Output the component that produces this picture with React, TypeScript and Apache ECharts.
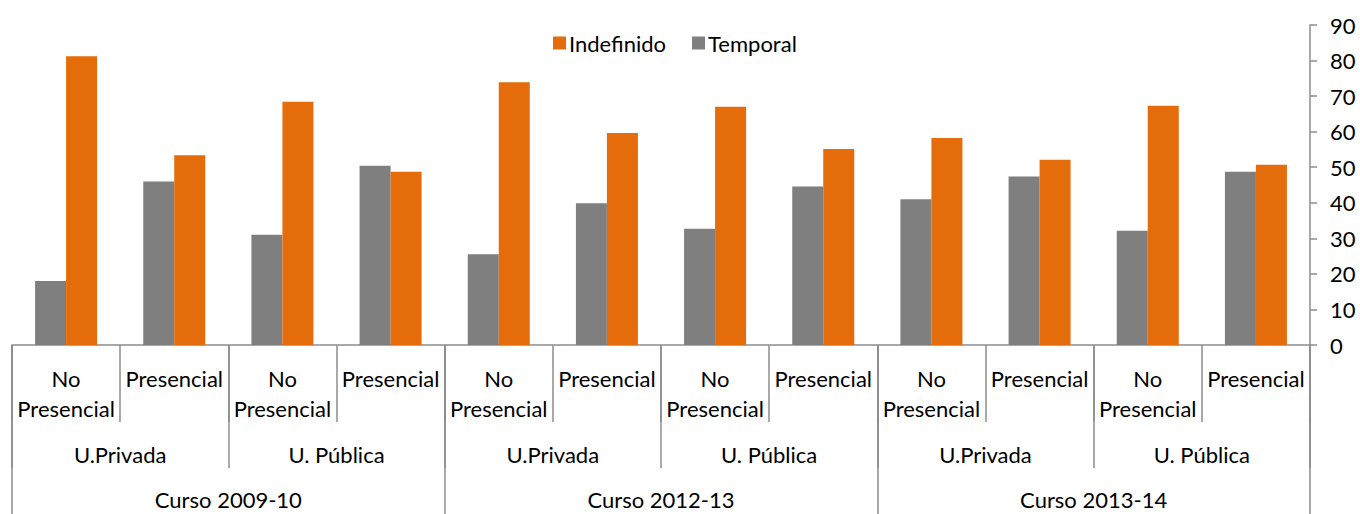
import React, { useEffect, useRef } from "react";
import * as echarts from "echarts";

const modalidades = [
  "No\nPresencial", "Presencial", "No\nPresencial", "Presencial",
  "No\nPresencial", "Presencial", "No\nPresencial", "Presencial",
  "No\nPresencial", "Presencial", "No\nPresencial", "Presencial",
];
const universidades = ["U.Privada", "U. Pública", "U.Privada", "U. Pública", "U.Privada", "U. Pública"];
const cursos = ["Curso 2009-10", "Curso 2012-13", "Curso 2013-14"];

const temporal = [18.0, 46.0, 31.0, 50.4, 25.5, 39.9, 32.7, 44.6, 41.0, 47.4, 32.1, 48.7];
const indefinido = [81.2, 53.4, 68.4, 48.7, 73.9, 59.6, 67.0, 55.1, 58.2, 52.1, 67.3, 50.7];

const FONT = "Lato";
const AXIS_COLOR = "#8c8c8c";
const FS = 22;

export default function App() {
  const ref = useRef<HTMLDivElement>(null);
  useEffect(() => {
    if (!ref.current) return;
    const chart = echarts.init(ref.current, undefined, { renderer: "svg" });
    const baseX = {
      type: "category" as const,
      position: "bottom" as const,
      gridIndex: 0,
      boundaryGap: true,
      axisLine: { show: false },
      splitLine: { show: false },
    };
    chart.setOption({
      animation: false,
      textStyle: { fontFamily: FONT },
      legend: {
        data: ["Indefinido", "Temporal"],
        left: 548,
        top: 27,
        itemWidth: 13,
        itemHeight: 13,
        itemGap: 26,
        icon: "rect",
        textStyle: { fontFamily: FONT, fontSize: FS, color: "#000", padding: [0, 0, 0, -2] },
      },
      grid: { left: 12, right: 50, top: 25, bottom: 163, containLabel: false },
      xAxis: [
        {
          ...baseX,
          data: modalidades,
          axisLine: { show: true, lineStyle: { color: AXIS_COLOR, width: 1.5 } },
          axisTick: { show: true, interval: 0, length: 77, lineStyle: { color: AXIS_COLOR, width: 1.5 } },
          axisLabel: { interval: 0, margin: 18, fontSize: FS, lineHeight: 30, color: "#000", fontFamily: FONT },
        },
        {
          ...baseX,
          data: universidades,
          axisTick: { show: true, interval: 0, length: 123, lineStyle: { color: AXIS_COLOR, width: 1.5 } },
          axisLabel: { interval: 0, margin: 94, fontSize: FS, lineHeight: 30, color: "#000", fontFamily: FONT },
        },
        {
          ...baseX,
          data: cursos,
          axisTick: { show: true, interval: 0, length: 180, lineStyle: { color: AXIS_COLOR, width: 1.5 } },
          axisLabel: { interval: 0, margin: 139, fontSize: FS, lineHeight: 30, color: "#000", fontFamily: FONT },
        },
      ],
      yAxis: {
        type: "value",
        position: "right",
        min: 0,
        max: 90,
        interval: 10,
        axisLine: { show: true, lineStyle: { color: AXIS_COLOR, width: 1.5 } },
        axisTick: { show: true, length: 7, lineStyle: { color: AXIS_COLOR, width: 1.5 } },
        splitLine: { show: false },
        axisLabel: { margin: 20, fontSize: FS, color: "#000", fontFamily: FONT },
      },
      series: [
        {
          name: "Temporal",
          type: "bar",
          xAxisIndex: 0,
          data: temporal,
          barWidth: 31,
          barGap: "0%",
          itemStyle: { color: "#7f7f7f" },
        },
        {
          name: "Indefinido",
          type: "bar",
          xAxisIndex: 0,
          data: indefinido,
          barWidth: 31,
          barGap: "0%",
          itemStyle: { color: "#e46c0a" },
        },
      ],
    });
    return () => chart.dispose();
  }, []);
  return (
    <div
      ref={ref}
      style={{ position: "fixed", left: 0, top: 0, width: 1360, height: 514, background: "#fff" }}
    />
  );
}
